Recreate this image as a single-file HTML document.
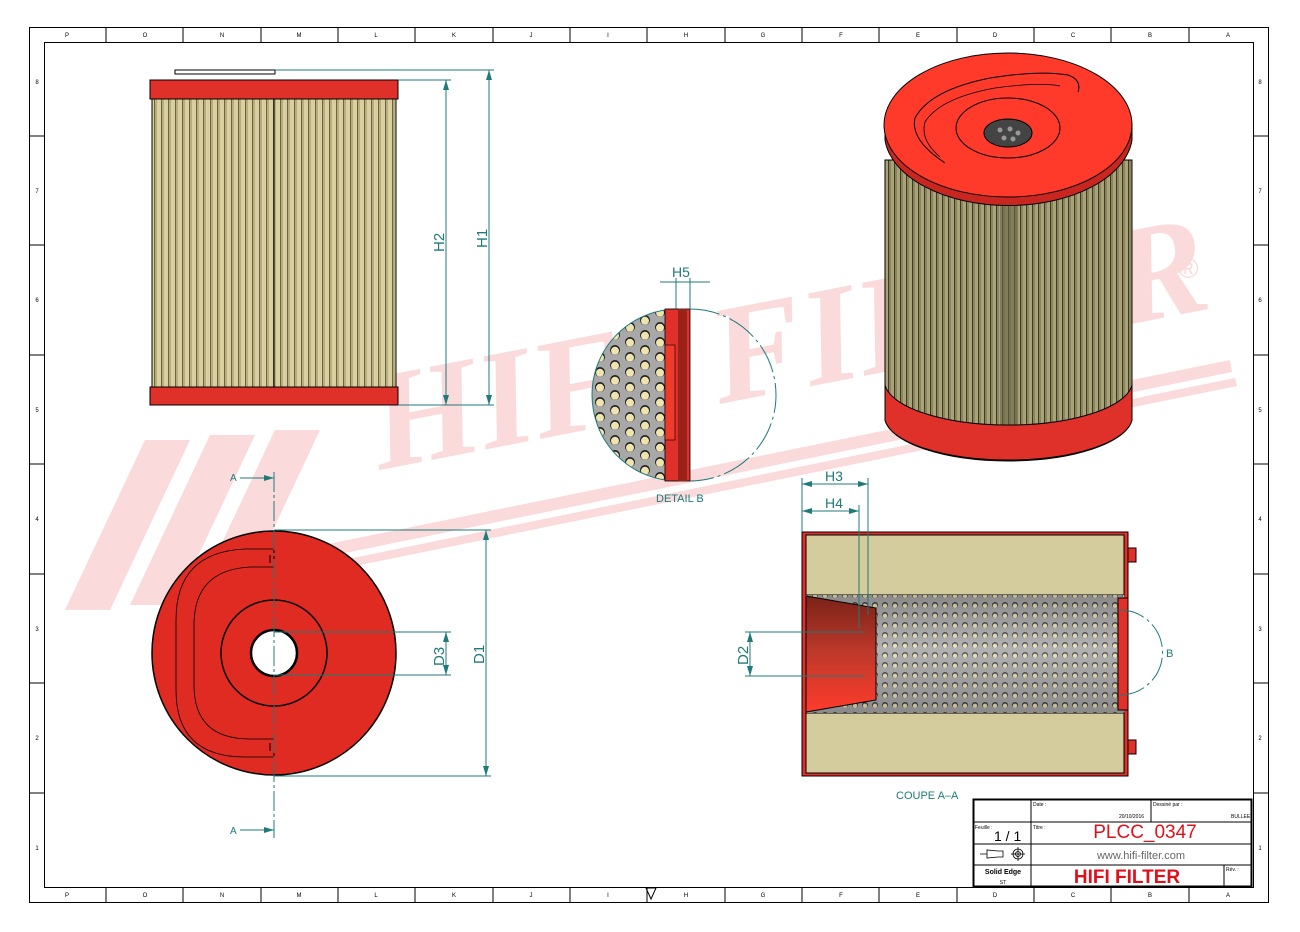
<!DOCTYPE html>
<html><head><meta charset="utf-8"><style>
html,body{margin:0;padding:0;background:#fff}
svg{display:block;font-family:"Liberation Sans",sans-serif}
</style></head><body>
<svg width="1300" height="932" viewBox="0 0 1300 932" xmlns="http://www.w3.org/2000/svg">
<defs>
<pattern id="pleat" width="7" height="10" patternUnits="userSpaceOnUse">
<rect width="7" height="10" fill="#d9cfa0"/><rect x="0" width="1" height="10" fill="#6b6440"/><rect x="1" width="2" height="10" fill="#b8ad7c"/>
</pattern>
<pattern id="pleat3" width="6" height="10" patternUnits="userSpaceOnUse">
<rect width="6" height="10" fill="#a9a375"/><rect x="0" width="1" height="10" fill="#3c3a28"/><rect x="1" width="2" height="10" fill="#8a8560"/>
</pattern>
<pattern id="holes" width="30" height="15" patternUnits="userSpaceOnUse" x="593" y="305">
<rect width="30" height="15" fill="#a8a8a8"/>
<circle cx="7" cy="7" r="5" fill="#222"/><circle cx="7" cy="7.8" r="4" fill="#efe3b0"/>
<circle cx="22" cy="0" r="5" fill="#222"/><circle cx="22" cy="0.8" r="4" fill="#efe3b0"/>
<circle cx="22" cy="15" r="5" fill="#222"/><circle cx="22" cy="15.8" r="4" fill="#efe3b0"/>
</pattern>
<pattern id="holes2" width="10" height="10" patternUnits="userSpaceOnUse">
<rect width="10" height="10" fill="#a0a0a0"/><circle cx="5" cy="5" r="3" fill="#222"/><circle cx="5" cy="5.8" r="2.2" fill="#efe3b0"/>
</pattern>
<linearGradient id="cone" x1="0" y1="0" x2="0" y2="1"><stop offset="0" stop-color="#7a2218"/><stop offset=".5" stop-color="#c0392b"/><stop offset="1" stop-color="#ff3b2b"/></linearGradient>
<linearGradient id="metal" x1="0" y1="0" x2="0" y2="1"><stop offset="0" stop-color="#555"/><stop offset=".45" stop-color="#ddd"/><stop offset="1" stop-color="#555"/></linearGradient>
</defs>

<!-- watermark -->
<g fill="#fadada">
<polygon points="65,610 145,440 190,440 110,610"/>
<polygon points="130,605 210,435 255,435 175,605"/>
<polygon points="195,600 275,430 320,430 240,600"/>
<polygon points="250,560 1230,360 1232,372 252,572"/>
<polygon points="255,578 1235,378 1237,386 257,586"/>
<text x="380" y="470" font-size="140" font-weight="bold" font-family="Liberation Serif,serif" transform="rotate(-11 380 470)" font-style="italic">HIFI FILTER</text>
<text x="1178" y="278" font-size="28">®</text>
</g>

<!-- frame -->
<rect x="29.5" y="27.5" width="1239" height="875" fill="none" stroke="#000"/>
<rect x="44.5" y="42.5" width="1209" height="845" fill="none" stroke="#000"/>
<g stroke="#000" stroke-width="1">
<line x1="106" y1="27" x2="106" y2="42"/><line x1="183" y1="27" x2="183" y2="42"/><line x1="261" y1="27" x2="261" y2="42"/><line x1="338" y1="27" x2="338" y2="42"/><line x1="415" y1="27" x2="415" y2="42"/><line x1="493" y1="27" x2="493" y2="42"/><line x1="570" y1="27" x2="570" y2="42"/><line x1="647" y1="27" x2="647" y2="42"/><line x1="725" y1="27" x2="725" y2="42"/><line x1="802" y1="27" x2="802" y2="42"/><line x1="879" y1="27" x2="879" y2="42"/><line x1="957" y1="27" x2="957" y2="42"/><line x1="1034" y1="27" x2="1034" y2="42"/><line x1="1111" y1="27" x2="1111" y2="42"/><line x1="1189" y1="27" x2="1189" y2="42"/>
<line x1="106" y1="887" x2="106" y2="902"/><line x1="183" y1="887" x2="183" y2="902"/><line x1="261" y1="887" x2="261" y2="902"/><line x1="338" y1="887" x2="338" y2="902"/><line x1="415" y1="887" x2="415" y2="902"/><line x1="493" y1="887" x2="493" y2="902"/><line x1="570" y1="887" x2="570" y2="902"/><line x1="647" y1="887" x2="647" y2="902"/><line x1="725" y1="887" x2="725" y2="902"/><line x1="802" y1="887" x2="802" y2="902"/><line x1="879" y1="887" x2="879" y2="902"/><line x1="957" y1="887" x2="957" y2="902"/><line x1="1034" y1="887" x2="1034" y2="902"/><line x1="1111" y1="887" x2="1111" y2="902"/><line x1="1189" y1="887" x2="1189" y2="902"/>
<line x1="29" y1="136" x2="44" y2="136"/><line x1="29" y1="245" x2="44" y2="245"/><line x1="29" y1="355" x2="44" y2="355"/><line x1="29" y1="464" x2="44" y2="464"/><line x1="29" y1="574" x2="44" y2="574"/><line x1="29" y1="683" x2="44" y2="683"/><line x1="29" y1="793" x2="44" y2="793"/>
<line x1="1253" y1="136" x2="1268" y2="136"/><line x1="1253" y1="245" x2="1268" y2="245"/><line x1="1253" y1="355" x2="1268" y2="355"/><line x1="1253" y1="464" x2="1268" y2="464"/><line x1="1253" y1="574" x2="1268" y2="574"/><line x1="1253" y1="683" x2="1268" y2="683"/><line x1="1253" y1="793" x2="1268" y2="793"/>
</g>
<g font-size="6" text-anchor="middle" fill="#000">
<text x="67" y="897">P</text><text x="145" y="897">O</text><text x="222" y="897">N</text><text x="299" y="897">M</text><text x="376" y="897">L</text><text x="454" y="897">K</text><text x="531" y="897">J</text><text x="608" y="897">I</text><text x="686" y="897">H</text><text x="763" y="897">G</text><text x="841" y="897">F</text><text x="918" y="897">E</text><text x="995" y="897">D</text><text x="1073" y="897">C</text><text x="1150" y="897">B</text><text x="1228" y="897">A</text>
<text x="67" y="37">P</text><text x="145" y="37">O</text><text x="222" y="37">N</text><text x="299" y="37">M</text><text x="376" y="37">L</text><text x="454" y="37">K</text><text x="531" y="37">J</text><text x="608" y="37">I</text><text x="686" y="37">H</text><text x="763" y="37">G</text><text x="841" y="37">F</text><text x="918" y="37">E</text><text x="995" y="37">D</text><text x="1073" y="37">C</text><text x="1150" y="37">B</text><text x="1228" y="37">A</text>
<text x="1260" y="84">8</text><text x="1260" y="193">7</text><text x="1260" y="302">6</text><text x="1260" y="412">5</text><text x="1260" y="521">4</text><text x="1260" y="631">3</text><text x="1260" y="740">2</text><text x="1260" y="850">1</text>
<text x="37" y="84">8</text><text x="37" y="193">7</text><text x="37" y="302">6</text><text x="37" y="412">5</text><text x="37" y="521">4</text><text x="37" y="631">3</text><text x="37" y="740">2</text><text x="37" y="850">1</text>
</g>
<polygon points="646,888 656,888 651,899" fill="none" stroke="#000"/>

<!-- top-left side view -->
<rect x="175" y="70" width="100" height="4" fill="#fff" stroke="#000"/>
<rect x="152" y="98" width="244" height="290" fill="url(#pleat)" stroke="#000"/>
<line x1="274" y1="98" x2="274" y2="388" stroke="#000"/>
<rect x="150" y="80" width="248" height="19" fill="#e0302a" stroke="#000"/>
<rect x="150" y="387" width="248" height="18" fill="#e0302a" stroke="#000"/>

<!-- H1 H2 -->
<g stroke="#1f7a7a" stroke-width="1" fill="none">
<line x1="275" y1="70" x2="494" y2="70"/><line x1="398" y1="80" x2="451" y2="80"/><line x1="398" y1="405" x2="494" y2="405"/>
<line x1="489" y1="70" x2="489" y2="405"/><line x1="446" y1="80" x2="446" y2="405"/>
</g>
<g fill="#1f7a7a">
<polygon points="489,70 486,80 492,80"/><polygon points="489,405 486,395 492,395"/>
<polygon points="446,80 443,90 449,90"/><polygon points="446,405 443,395 449,395"/>
</g>
<text x="0" y="0" font-size="15" fill="#1f7a7a" transform="translate(487,248) rotate(-90)">H1</text>
<text x="0" y="0" font-size="15" fill="#1f7a7a" transform="translate(444,252) rotate(-90)">H2</text>

<!-- bottom-left end view -->
<circle cx="274" cy="653" r="122" fill="#df2b22" stroke="#000" stroke-width="1.5"/>
<path d="M274,549 L245,549 Q176,552 176,620 L176,690 Q176,757 245,757 L274,757" fill="none" stroke="#000" stroke-width=".8"/>
<path d="M274,567 L250,567 Q194,570 194,625 L194,685 Q194,739 250,739 L274,739" fill="none" stroke="#000" stroke-width=".8"/>
<line x1="274" y1="549" x2="274" y2="567" stroke="#000"/><line x1="274" y1="739" x2="274" y2="757" stroke="#000"/>
<line x1="270" y1="555" x2="270" y2="563" stroke="#000"/><line x1="270" y1="743" x2="270" y2="751" stroke="#000"/>
<circle cx="274" cy="653" r="53" fill="none" stroke="#000" stroke-width="1.5"/>
<circle cx="274" cy="653" r="23" fill="#fff" stroke="#000" stroke-width="2.5"/>
<g stroke="#1f7a7a" fill="none">
<line x1="274" y1="472" x2="274" y2="838" stroke-dasharray="20,3,3,3"/>
<line x1="240" y1="478" x2="274" y2="478"/><line x1="240" y1="830" x2="274" y2="830"/>
<line x1="274" y1="530" x2="491" y2="530"/><line x1="274" y1="776" x2="491" y2="776"/>
<line x1="274" y1="632" x2="451" y2="632"/><line x1="274" y1="675" x2="451" y2="675"/>
<line x1="486" y1="530" x2="486" y2="776"/><line x1="446" y1="632" x2="446" y2="675"/>
</g>
<g fill="#1f7a7a">
<polygon points="274,478 264,475 264,481"/><polygon points="274,830 264,827 264,833"/>
<polygon points="486,530 483,540 489,540"/><polygon points="486,776 483,766 489,766"/>
<polygon points="446,632 443,642 449,642"/><polygon points="446,675 443,665 449,665"/>
</g>
<text x="230" y="481" font-size="10" fill="#1f7a7a">A</text><text x="230" y="834" font-size="10" fill="#1f7a7a">A</text>
<text x="0" y="0" font-size="15" fill="#1f7a7a" transform="translate(484,664) rotate(-90)">D1</text>
<text x="0" y="0" font-size="15" fill="#1f7a7a" transform="translate(444,666) rotate(-90)">D3</text>

<!-- detail B -->
<path d="M678,309 A86,86 0 0 0 678,481 Z" fill="url(#holes)" stroke="#1f7a7a"/>
<rect x="665" y="309" width="25" height="172" fill="#e0302a" stroke="#000" stroke-width=".8"/>
<rect x="678" y="309" width="9" height="172" fill="#9a2219"/>
<rect x="665" y="345" width="10" height="95" fill="#f03a2a" stroke="#000" stroke-width=".6"/>
<path d="M690,309 A86,86 0 0 1 690,481" fill="none" stroke="#1f7a7a" stroke-dasharray="30,4,3,4"/>
<g stroke="#1f7a7a"><line x1="676" y1="278" x2="676" y2="309"/><line x1="690" y1="278" x2="690" y2="309"/><line x1="660" y1="282" x2="710" y2="282"/></g>
<text x="672" y="277" font-size="14" fill="#1f7a7a">H5</text>
<text x="656" y="502" font-size="11" fill="#1f7a7a">DETAIL B</text>

<!-- 3D view -->
<path d="M885,160 L885,420 A124,45 0 0 0 1132,420 L1132,160 Z" fill="url(#pleat3)" stroke="#000"/>
<rect x="1000" y="200" width="18" height="250" fill="#6b6648" opacity=".6"/>
<path d="M885,385 L885,420 A124,44 0 0 0 1132,420 L1132,385 A124,44 0 0 1 885,385 Z" fill="#e0302a" stroke="#000"/>
<path d="M885,125 L885,140 A124,72 0 0 0 1132,140 L1132,125 Z" fill="#c8261e" stroke="#000"/>
<ellipse cx="1008" cy="125" rx="124" ry="72" fill="#ff3a2a" stroke="#000"/>
<path d="M945,163 Q910,140 915,118 Q930,90 990,78 Q1040,70 1068,75 Q1082,80 1078,92" fill="none" stroke="#000" stroke-width="1"/>
<path d="M940,157 Q920,140 925,122 Q940,98 995,88 Q1040,82 1060,86" fill="none" stroke="#000" stroke-width=".8"/>
<ellipse cx="1008" cy="128" rx="52" ry="30" fill="#ff3a2a" stroke="#000"/>
<ellipse cx="1008" cy="133" rx="24" ry="14" fill="#444" stroke="#000"/>
<g fill="#999"><circle cx="1000" cy="130" r="2.5"/><circle cx="1010" cy="129" r="2.5"/><circle cx="1018" cy="133" r="2.5"/><circle cx="1004" cy="138" r="2.5"/><circle cx="1013" cy="139" r="2.5"/></g>

<!-- section A-A -->
<rect x="802" y="532" width="326" height="244" fill="#e0302a" stroke="#000"/>
<rect x="806" y="535" width="318" height="60" fill="#d4cc9c" stroke="#000"/>
<rect x="806" y="713" width="318" height="60" fill="#d4cc9c" stroke="#000"/>
<rect x="806" y="595" width="318" height="118" fill="url(#metal)"/>
<rect x="806" y="595" width="318" height="118" fill="url(#holes2)" opacity=".7"/>
<polygon points="806,596 876,608 876,700 806,712" fill="url(#cone)" stroke="#000"/>
<rect x="1118" y="598" width="10" height="112" fill="#e0302a" stroke="#000"/>
<rect x="1128" y="548" width="8" height="14" fill="#e0302a" stroke="#000"/>
<rect x="1128" y="740" width="8" height="14" fill="#e0302a" stroke="#000"/>
<g stroke="#1f7a7a" fill="none">
<line x1="802" y1="478" x2="802" y2="532"/><line x1="868" y1="478" x2="868" y2="615"/><line x1="859" y1="505" x2="859" y2="628"/>
<line x1="802" y1="484" x2="868" y2="484"/><line x1="802" y1="511" x2="859" y2="511"/>
<line x1="745" y1="632" x2="865" y2="632"/><line x1="745" y1="676" x2="865" y2="676"/><line x1="750" y1="632" x2="750" y2="676"/>
<path d="M1120,610 A40,40 0 0 1 1120,695" stroke-dasharray="25,4,3,4"/>
</g>
<g fill="#1f7a7a">
<polygon points="802,484 812,481 812,487"/><polygon points="868,484 858,481 858,487"/>
<polygon points="802,511 812,508 812,514"/><polygon points="859,511 849,508 849,514"/>
<polygon points="750,632 747,642 753,642"/><polygon points="750,676 747,666 753,666"/>
</g>
<text x="825" y="481" font-size="14" fill="#1f7a7a">H3</text>
<text x="825" y="508" font-size="14" fill="#1f7a7a">H4</text>
<text x="0" y="0" font-size="15" fill="#1f7a7a" transform="translate(748,665) rotate(-90)">D2</text>
<text x="1166" y="657" font-size="11" fill="#1f7a7a">B</text>
<text x="896" y="799" font-size="11" fill="#1f7a7a">COUPE A–A</text>

<!-- title block -->
<g stroke="#000" fill="none">
<rect x="973.5" y="799.5" width="278" height="87" stroke-width="2"/>
<line x1="1031" y1="800" x2="1031" y2="887"/>
<line x1="974" y1="822" x2="1252" y2="822"/>
<line x1="974" y1="844" x2="1252" y2="844"/>
<line x1="974" y1="865" x2="1252" y2="865"/>
<line x1="1151" y1="800" x2="1151" y2="822"/>
<line x1="1224" y1="865" x2="1224" y2="887"/>
</g>
<g font-size="5" fill="#000">
<text x="1033" y="806">Date :</text><text x="1153" y="806">Dessiné par :</text>
<text x="1119" y="818">20/10/2016</text><text x="1231" y="818">BULLEE</text>
<text x="975" y="829">Feuille :</text><text x="1033" y="829">Titre :</text><text x="1226" y="871">Rév. :</text>
</g>
<text x="994" y="841" font-size="14" fill="#000">1 / 1</text>
<text x="1145" y="838" font-size="19" fill="#e0101a" text-anchor="middle">PLCC_0347</text>
<text x="1141" y="859" font-size="11" fill="#666" text-anchor="middle">www.hifi-filter.com</text>
<text x="1127" y="883" font-size="19" font-weight="bold" fill="#e0101a" text-anchor="middle">HIFI FILTER</text>
<text x="1003" y="874" font-size="7" font-weight="bold" text-anchor="middle">Solid Edge</text>
<text x="1003" y="884" font-size="5" text-anchor="middle">ST</text>
<g stroke="#000" fill="none" stroke-width=".8">
<path d="M980,854 L987,854 L987,850 L998,851 L1003,851 L1003,857 L998,857 L987,858 L987,854"/>
<circle cx="1018" cy="854" r="5"/><circle cx="1018" cy="854" r="2.5"/><line x1="1011" y1="854" x2="1025" y2="854"/><line x1="1018" y1="847" x2="1018" y2="861"/>
</g>
</svg>
</body></html>
